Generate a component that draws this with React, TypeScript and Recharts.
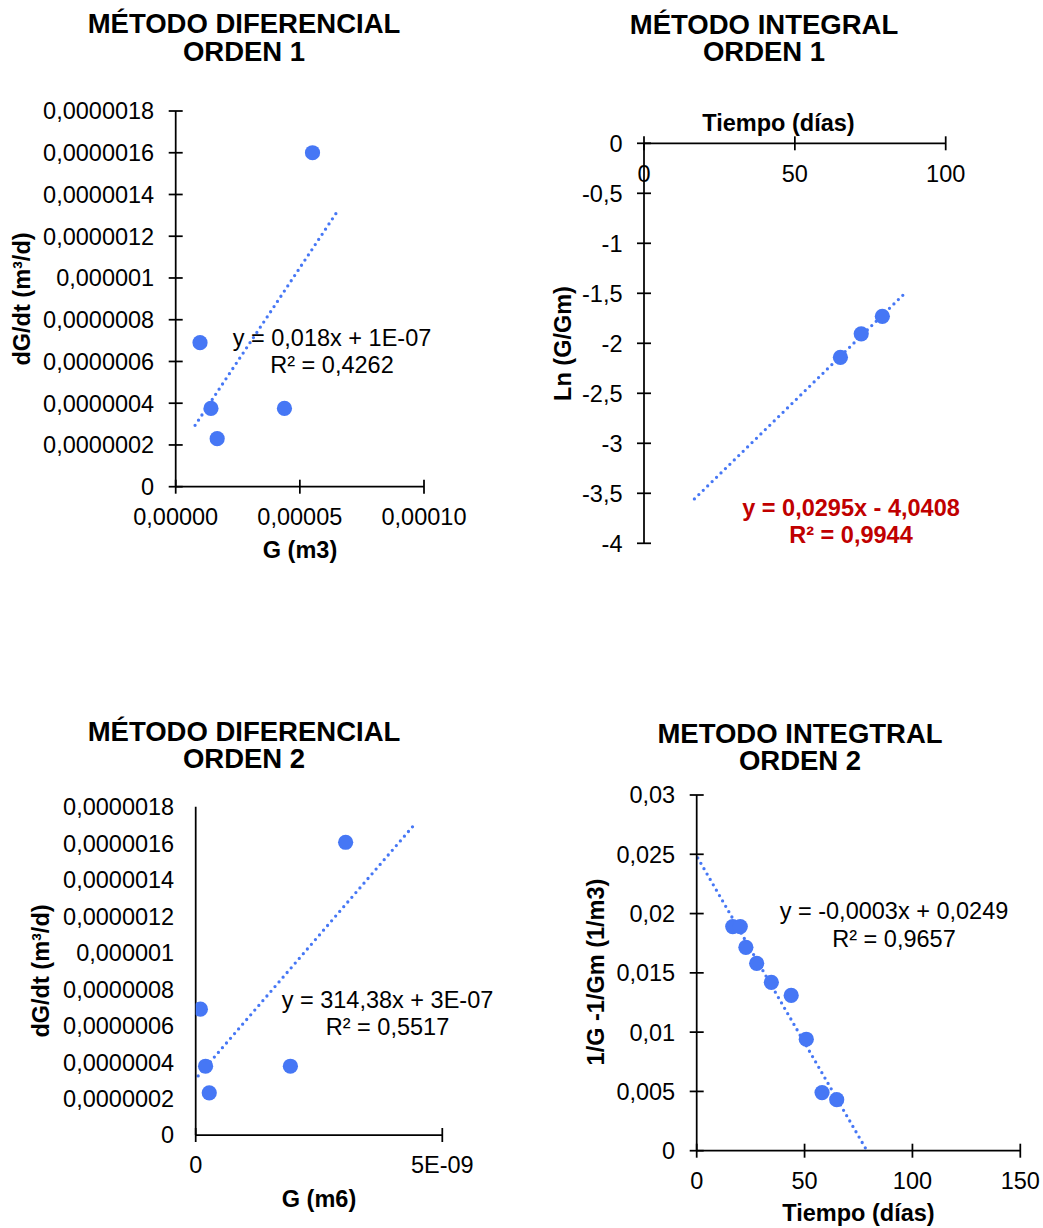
import { ReferenceLine, Scatter, ScatterChart, XAxis, YAxis } from 'recharts'

const FONT = '"Liberation Sans", Arial, Helvetica, sans-serif'
const BLUE = '#4677F5'
const RED = '#C00000'
const TICK_FONT = 23.5
const LABEL_FONT = 23.5
const TITLE_FONT = 27.5
const Y_GAP = 21.5
const X_GAP = 29

// Método diferencial, orden 1: dG/dt frente a G
const gOrden1 = [0.0000098, 0.0000142, 0.0000167, 0.0000438, 0.0000551]
const rateOrden1 = [0.00000069, 0.000000375, 0.00000023, 0.000000375, 0.0000016]

// Método integral, orden 1: Ln(G/Gm) frente al tiempo
const diasOrden1 = [65.1, 72, 79]
const lnOrden1 = [-2.14, -1.905, -1.73]

// Método diferencial, orden 2: dG/dt frente a G²
const g2Orden2 = [0.000000000095, 0.0000000002, 0.000000000275, 0.00000000192, 0.00000000304]
const rateOrden2 = [0.00000069, 0.000000377, 0.000000231, 0.000000377, 0.000001605]

// Método integral, orden 2: 1/G - 1/Gm frente al tiempo
const diasOrden2 = [16.7, 20.2, 22.8, 27.8, 34.6, 43.8, 50.8, 58.1, 64.9]
const invOrden2 = [0.0189, 0.0189, 0.01715, 0.0158, 0.0142, 0.0131, 0.0094, 0.0049, 0.0043]

// ejes
const rateTicks = [0, 0.0000002, 0.0000004, 0.0000006, 0.0000008, 0.000001, 0.0000012, 0.0000014, 0.0000016, 0.0000018]
const rateLabels = ['0', '0,0000002', '0,0000004', '0,0000006', '0,0000008', '0,000001', '0,0000012', '0,0000014', '0,0000016', '0,0000018']
const gTicks = [0, 0.00005, 0.0001]
const gLabels = ['0,00000', '0,00005', '0,00010']
const g2Ticks = [0, 0.000000005]
const g2Labels = ['0', '5E-09']
const lnTicks = [-4, -3.5, -3, -2.5, -2, -1.5, -1, -0.5, 0]
const lnLabels = ['-4', '-3,5', '-3', '-2,5', '-2', '-1,5', '-1', '-0,5', '0']
const dias1Ticks = [0, 50, 100]
const dias1Labels = ['0', '50', '100']
const dias2Ticks = [0, 50, 100, 150]
const dias2Labels = ['0', '50', '100', '150']
const invTicks = [0, 0.005, 0.01, 0.015, 0.02, 0.025, 0.03]
const invLabels = ['0', '0,005', '0,01', '0,015', '0,02', '0,025', '0,03']

// extensión de cada línea de tendencia (con pronóstico hacia atrás/adelante)
const trend1 = [0.0000078, 0.0000656]
const trend2 = [16.7, 85.9]
const trend3 = [0.00000000005, 0.00000000443]
const trend4 = [0.5, 78.5]

function linearFit(xs: number[], ys: number[]) {
  const n = xs.length
  const mx = xs.reduce((a, v) => a + v, 0) / n
  const my = ys.reduce((a, v) => a + v, 0) / n
  let sxy = 0
  let sxx = 0
  for (let i = 0; i < n; i++) {
    sxy += (xs[i] - mx) * (ys[i] - my)
    sxx += (xs[i] - mx) * (xs[i] - mx)
  }
  const m = sxy / sxx
  return { m, b: my - m * mx }
}

interface TickProps {
  x?: number
  y?: number
  payload?: { value: number }
}

function LeftTick(props: TickProps & { ticks: number[]; labels: string[]; mark: boolean }) {
  const { x = 0, y = 0, payload, ticks, labels, mark } = props
  const i = ticks.indexOf(payload ? payload.value : NaN)
  const axisX = x + Y_GAP
  return (
    <g>
      {mark && <line x1={axisX - 7} x2={axisX + 7} y1={y} y2={y} stroke="#000" strokeWidth={1.75} />}
      <text x={x} y={y} dy="0.36em" textAnchor="end" fontSize={TICK_FONT} fontFamily={FONT} fill="#000">
        {labels[i]}
      </text>
    </g>
  )
}

function BottomTick(props: TickProps & { ticks: number[]; labels: string[]; axisOffset: number }) {
  const { x = 0, y = 0, payload, ticks, labels, axisOffset } = props
  const i = ticks.indexOf(payload ? payload.value : NaN)
  const axisY = y - axisOffset
  return (
    <g>
      <line x1={x} x2={x} y1={axisY - 7} y2={axisY + 7} stroke="#000" strokeWidth={1.75} />
      <text x={x} y={axisY + X_GAP + 1} dy="0.36em" textAnchor="middle" fontSize={TICK_FONT} fontFamily={FONT} fill="#000">
        {labels[i]}
      </text>
    </g>
  )
}

interface Box {
  left: number
  top: number
  width: number
  height: number
}
interface Plot {
  left: number
  top: number
  right: number
  bottom: number
}

interface FitChartProps {
  box: Box
  plot: Plot
  xs: number[]
  ys: number[]
  xDomain: [number, number]
  xTicks: number[]
  xLabels: string[]
  yDomain: [number, number]
  yTicks: number[]
  yLabels: string[]
  span: number[]
  xTop?: boolean
  yMarks?: boolean
}

function FitChart({ box, plot, xs, ys, xDomain, xTicks, xLabels, yDomain, yTicks, yLabels, span, xTop = false, yMarks = true }: FitChartProps) {
  const yAxisW = 60
  const xAxisH = 40
  const margin = {
    left: plot.left - box.left - yAxisW,
    right: box.left + box.width - plot.right,
    top: plot.top - box.top - (xTop ? xAxisH : 0),
    bottom: box.top + box.height - plot.bottom - (xTop ? 0 : xAxisH),
  }
  const data = xs.map((x, i) => ({ x, y: ys[i] }))
  const { m, b } = linearFit(xs, ys)
  const xMargin = xTop ? 0 : X_GAP
  return (
    <div style={{ position: 'absolute', left: box.left, top: box.top }}>
      <ScatterChart width={box.width} height={box.height} margin={margin}>
        <XAxis
          type="number"
          dataKey="x"
          orientation={xTop ? 'top' : 'bottom'}
          height={xAxisH}
          domain={xDomain}
          ticks={xTicks}
          interval={0}
          allowDataOverflow
          axisLine={{ stroke: '#000', strokeWidth: 1.75 }}
          tickLine={false}
          tickSize={0}
          tickMargin={xMargin}
          tick={(p: TickProps) => <BottomTick {...p} ticks={xTicks} labels={xLabels} axisOffset={xTop ? 0 : xMargin} />}
        />
        <YAxis
          type="number"
          dataKey="y"
          width={yAxisW}
          domain={yDomain}
          ticks={yTicks}
          interval={0}
          allowDataOverflow
          axisLine={{ stroke: '#000', strokeWidth: 1.75 }}
          tickLine={false}
          tickSize={0}
          tickMargin={Y_GAP}
          tick={(p: TickProps) => <LeftTick {...p} ticks={yTicks} labels={yLabels} mark={yMarks} />}
        />
        <Scatter
          data={data}
          fill={BLUE}
          isAnimationActive={false}
          shape={(p: { cx?: number; cy?: number }) => <circle cx={p.cx} cy={p.cy} r={7.6} fill={BLUE} />}
        />
        <ReferenceLine
          segment={[
            { x: span[0], y: m * span[0] + b },
            { x: span[1], y: m * span[1] + b },
          ]}
          ifOverflow="visible"
          stroke={BLUE}
          strokeWidth={3.3}
          strokeDasharray="0 6.2"
          strokeLinecap="round"
        />
      </ScatterChart>
    </div>
  )
}

// líneas apiladas como textos separados
function Lines({ x, y, lines, step, size, bold, color = '#000' }: { x: number; y: number; lines: string[]; step: number; size: number; bold: boolean; color?: string }) {
  return (
    <>
      {lines.map((l, i) => (
        <text
          key={l}
          x={x}
          y={y + i * step}
          textAnchor="middle"
          fontSize={size}
          fontWeight={bold ? 'bold' : 'normal'}
          fontFamily={FONT}
          fill={color}
        >
          {l}
        </text>
      ))}
    </>
  )
}

function AxisTitle({ x, y, text, vertical = false }: { x: number; y: number; text: string; vertical?: boolean }) {
  return (
    <text
      x={x}
      y={y}
      textAnchor="middle"
      fontSize={LABEL_FONT}
      fontWeight="bold"
      fontFamily={FONT}
      fill="#000"
      transform={vertical ? `rotate(-90 ${x} ${y})` : undefined}
    >
      {text}
    </text>
  )
}

export default function App() {
  return (
    <div style={{ position: 'absolute', left: 0, top: 0, width: 1043, height: 1228, background: '#fff', fontFamily: FONT }}>
      <FitChart
        box={{ left: 0, top: 0, width: 521, height: 614 }}
        plot={{ left: 175.7, top: 111, right: 424, bottom: 486.7 }}
        xs={gOrden1}
        ys={rateOrden1}
        xDomain={[0, 0.0001]}
        xTicks={gTicks}
        xLabels={gLabels}
        yDomain={[0, 0.0000018]}
        yTicks={rateTicks}
        yLabels={rateLabels}
        span={trend1}
      />
      <FitChart
        box={{ left: 521, top: 0, width: 522, height: 614 }}
        plot={{ left: 644, top: 143.3, right: 945.7, bottom: 543.3 }}
        xs={diasOrden1}
        ys={lnOrden1}
        xDomain={[0, 100]}
        xTicks={dias1Ticks}
        xLabels={dias1Labels}
        yDomain={[-4, 0]}
        yTicks={lnTicks}
        yLabels={lnLabels}
        span={trend2}
        xTop
      />
      <FitChart
        box={{ left: 0, top: 614, width: 521, height: 614 }}
        plot={{ left: 195.7, top: 806.7, right: 442.3, bottom: 1135 }}
        xs={g2Orden2}
        ys={rateOrden2}
        xDomain={[0, 0.000000005]}
        xTicks={g2Ticks}
        xLabels={g2Labels}
        yDomain={[0, 0.0000018]}
        yTicks={rateTicks}
        yLabels={rateLabels}
        span={trend3}
        yMarks={false}
      />
      <FitChart
        box={{ left: 521, top: 614, width: 522, height: 614 }}
        plot={{ left: 696.7, top: 795, right: 1020.3, bottom: 1150.7 }}
        xs={diasOrden2}
        ys={invOrden2}
        xDomain={[0, 150]}
        xTicks={dias2Ticks}
        xLabels={dias2Labels}
        yDomain={[0, 0.03]}
        yTicks={invTicks}
        yLabels={invLabels}
        span={trend4}
      />
      <svg width={1043} height={1228} style={{ position: 'absolute', left: 0, top: 0, pointerEvents: 'none' }}>
        <Lines x={244} y={33.4} lines={['MÉTODO DIFERENCIAL', 'ORDEN 1']} step={27.7} size={TITLE_FONT} bold />
        <Lines x={764} y={34} lines={['MÉTODO INTEGRAL', 'ORDEN 1']} step={27.2} size={TITLE_FONT} bold />
        <Lines x={244} y={740.6} lines={['MÉTODO DIFERENCIAL', 'ORDEN 2']} step={27.7} size={TITLE_FONT} bold />
        <Lines x={800} y={743} lines={['METODO INTEGTRAL', 'ORDEN 2']} step={27.2} size={TITLE_FONT} bold />

        <AxisTitle x={300} y={558} text="G (m3)" />
        <AxisTitle x={29.5} y={299} text="dG/dt (m³/d)" vertical />
        <AxisTitle x={778.5} y={130.7} text="Tiempo (días)" />
        <AxisTitle x={571} y={343.5} text="Ln (G/Gm)" vertical />
        <AxisTitle x={319} y={1206.5} text="G (m6)" />
        <AxisTitle x={49} y={971} text="dG/dt (m³/d)" vertical />
        <AxisTitle x={858.5} y={1221} text="Tiempo (días)" />
        <AxisTitle x={604} y={972} text="1/G -1/Gm (1/m3)" vertical />

        <Lines x={332} y={346} lines={['y = 0,018x + 1E-07', 'R² = 0,4262']} step={27.3} size={LABEL_FONT} bold={false} />
        <Lines x={851} y={516} lines={['y = 0,0295x - 4,0408', 'R² = 0,9944']} step={27.3} size={LABEL_FONT} bold color={RED} />
        <Lines x={387.5} y={1008.3} lines={['y = 314,38x + 3E-07', 'R² = 0,5517']} step={26.7} size={LABEL_FONT} bold={false} />
        <Lines x={894} y={919.3} lines={['y = -0,0003x + 0,0249', 'R² = 0,9657']} step={27.4} size={LABEL_FONT} bold={false} />
      </svg>
    </div>
  )
}
